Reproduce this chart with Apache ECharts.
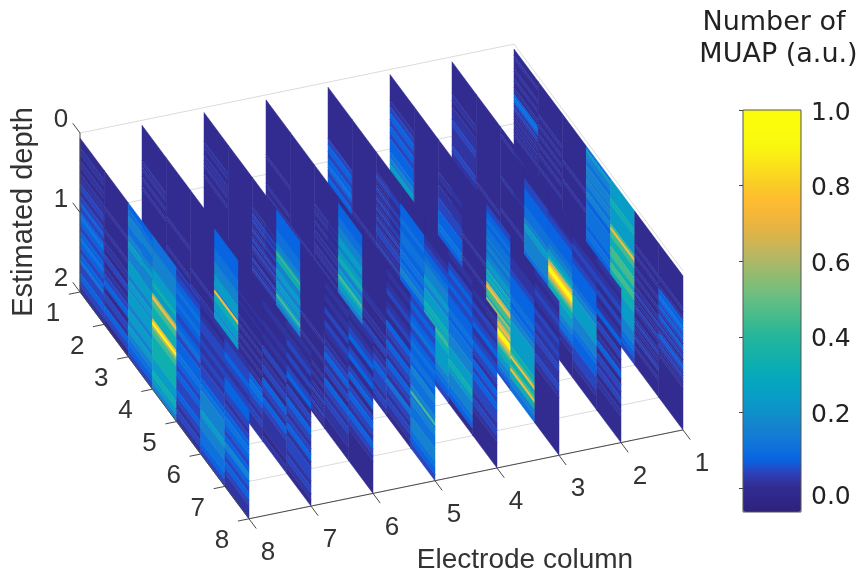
<!DOCTYPE html>
<html>
<head>
<meta charset="utf-8">
<style>html,body{margin:0;padding:0;background:#fff}#c{width:862px;height:575px}</style>
<script src="https://cdn.jsdelivr.net/npm/echarts@6/dist/echarts.min.js"></script>
</head>
<body>
<div id="c"></div>
<script>
// Intensity code per depth cell (top to bottom), per row segment 1-2 ... 7-8, per electrode column.
const levels = {0:0,1:.02,2:.045,3:.075,4:.11,5:.16,6:.24,7:.33,8:.45,9:.6,a:.75,b:.95};
const col8 = [
"00011001 10011022 11223223 43322334 33223342 22332211",
"00000000 00010000 00100011 00220011 22330022 11332200",
"33445554 44556655 55666655 66566665 56665566 55443322",
"44445555 55666677 669a8877 77ab9887 77777766 66776655",
"21223344 33443322 33442233 33443322 33222233 22112211",
"11001122 22112211 22112222 33445555 55665555 44443322",
"11222233 22112233 33221122 33443322 33553322 33221111"];
const col7 = [
"00000000 00010100 10010000 00000000 00000000 00000000",
"00000000 00000000 00100000 00010000 00000000 00010000",
"00000000 00000000 00000000 10000100 00100010 01002000",
"00333333 44445555 66665a77 66656655 55665555 44444433",
"00000000 00010010 00100100 10010010 33443322 11221111",
"00001100 00110011 00220011 22003322 11332211 11110011",
"11001122 00220022 33002211 33221122 33112222 11221100"];
const col6 = [
"00000000 01100110 10010000 00000000 01000000 00010000",
"00000000 00000000 00000000 00000000 00100000 00000000",
"00000000 01021201 20120210 02012012 10010000 00000000",
"33333344 44556877 55665566 56865566 88665555 44444433",
"00000000 00000000 00000100 00010000 10010010 20102010",
"00110011 00220022 11001122 33112200 33221122 11110000",
"11001122 33002233 00223300 22332211 33221100 00000000"];
const col5 = [
"00000000 00000000 01000000 00100101 01101201 00000000",
"00000000 00000000 00000000 00000100 00000000 00000000",
"00000000 00001010 01001100 10100100 00010000 00100000",
"00333344 45556665 66775566 87665566 76665555 44443322",
"00000000 00000000 00110000 11002200 11223322 22112211",
"00110011 22001122 00332211 33221133 22114422 11221100",
"22332233 44223344 33443355 44445584 55444455 55443322"];
const col4 = [
"00000000 00000000 22332233 43223344 22332211 00000000",
"00000000 00000000 00000000 00001010 00100000 01000000",
"00000012 10120120 12012012 21102010 01001000 01000000",
"00000033 33443344 44334433 44553344 44333344 33221100",
"00000011 22334455 55665566 66776787 76666666 55443322",
"11002233 22332233 33443344 44555566 66776655 55443300",
"00110022 11223311 22332211 33223322 22112211 00000000"];
const col3 = [
"00000000 11223322 33223333 44556655 54433322 11000000",
"00000000 00000000 00000000 00000000 00010000 00000000",
"00000000 00110011 11222233 33443344 33332211 00000000",
"00000000 00000000 00010000 00100001 00010000 00100000",
"22334434 44545545 56657676 9a887989 a9bba987 76655432",
"00000011 11223333 33443344 55666666 66778a77 8a775544",
"11001122 11002211 22112211 11221100 00000000 00000000"];
const col2 = [
"00000000 00110011 11221111 11221122 11332200 00000000",
"00000000 00000000 00000000 00010000 00000000 00000000",
"00100000 00000001 00000000 01000000 10000000 00000000",
"00000022 23333344 44556655 55554433 32100000 00000000",
"00000012 23333344 556679ab ba987766 65544321 10000000",
"00001122 11223333 33445566 66665555 44333322 22110000",
"11001122 00220011 33002200 11330022 11220011 00000000"];
const col1 = [
"00100010 01001034 31210101 10100000 10000000 00000000",
"00000000 00100100 10010010 00100001 00000000 00000000",
"00000000 00000010 00001000 00000010 00000000 00000000",
"46554455 54554455 33444444 33443344 33443333 22100000",
"66666677 6666668a 88777888 77887777 66666655 55443322",
"00000000 00100100 01001001 02010210 01201012 00100000",
"00000000 00100133 43232132 12023212 10100000 00000000"];
const columns = [col1, col2, col3, col4, col5, col6, col7, col8];
const colTicks = [1,2,3,4,5,6,7,8];
const rowTicks = [1,2,3,4,5,6,7,8];
const depthTicks = [0,1,2];
const barTicks = [0,0.2,0.4,0.6,0.8,1];
const parula = ["#2d2378","#30268a","#322d91","#2d41b9","#0864e1","#0f70dc","#147dd2","#1487cd","#0c94c8","#089ec6","#05a5c0","#0aacb4","#14b0aa","#1eb4a0","#2db796","#44bb8c","#5abe87","#73be7d","#8cbc73","#a5b969","#beb65f","#d4b450","#e6b441","#f5b737","#ffbc30","#fac828","#fad720","#fae619","#faf50f","#fafa0e","#fafc0c","#fafc0c"];

// Viewing projection of the (column, row, depth) box on to the hidden plot axes
const DEPTH_TOP = 0.0625;
function project(c, r, d) {
  return [80 + 62 * (8 - c) + 24.14 * (r - 1), 133 - 12.7 * (8 - c) + 32.4 * (r - 1) + 79.5 * d];
}

// Runs of equal cells become one band: [column, row, firstCell, endCell, value, cellCount]
const bands = [];
columns.forEach((segs, ci) => segs.forEach((s, si) => {
  const str = s.replace(/ /g, '');
  let k = 0;
  while (k < str.length) {
    let e = k + 1;
    while (e < str.length && str[e] === str[k]) e++;
    bands.push([ci + 1, si + 1, k, e, levels[str[k]], str.length]);
    k = e;
  }
}));

const light = '#dcdcdc', dark = '#4a4a4a';
const gridSegs = [
  [[8,1,0],[1,1,0]], [[1,1,0],[1,8,0]], [[8,1,1],[1,1,1]], [[8,1,2],[1,1,2]]
].concat(rowTicks.map(r => [[8,r,2],[1,r,2]]));
const axisSegs = [
  [[8,1,0],[8,1,2]], [[8,1,2],[8,8,2]], [[8,8,2],[1,8,2]]
].concat(depthTicks.map(d => [[8,1,d],[8,0.7,d]]))
 .concat(rowTicks.map(r => [[8,r,2],[8.18,r,2]]))
 .concat(colTicks.map(c => [[c,8,2],[c,8.3,2]]));
const labels = []
  .concat(depthTicks.map(d => { const p = project(8,1,d); return [String(d), p[0]-19, p[1]-13]; }))
  .concat(rowTicks.map(r => { const p = project(8,r,2); return [String(r), p[0]-27, p[1]+22]; }))
  .concat(colTicks.map(c => { const p = project(c,8,2); return [String(c), p[0]+19, p[1]+34]; }));

function segRenderer(list, color) {
  return function (params, api) {
    const s = list[params.dataIndex];
    const a = api.coord(project.apply(null, s[0])), b = api.coord(project.apply(null, s[1]));
    return {type:'line', shape:{x1:a[0],y1:a[1],x2:b[0],y2:b[1]}, style:{stroke:color, lineWidth:1}};
  };
}

const chart = echarts.init(document.getElementById('c'), null, {renderer:'canvas'});
chart.setOption({
  animation:false,
  backgroundColor:'#fff',
  grid:[
    {left:0, top:0, width:862, height:575, show:false},
    {left:743, top:110, width:58, height:402, show:true, backgroundColor:'transparent', borderColor:'#555', borderWidth:1, z:6}
  ],
  xAxis:[
    {gridIndex:0, type:'value', min:0, max:862, show:false},
    {gridIndex:1, type:'value', min:0, max:1, show:false}
  ],
  yAxis:[
    {gridIndex:0, type:'value', min:0, max:575, inverse:true, show:false},
    {gridIndex:1, type:'value', min:-0.063, max:1, position:'right', z:7,
     splitLine:{show:false},
     axisLine:{show:false},
     axisTick:{show:true, inside:true, length:4, customValues:barTicks, lineStyle:{color:'#444'}},
     axisLabel:{show:true, customValues:barTicks, margin:10, color:'#222', fontFamily:'DejaVu Sans', fontSize:25,
       padding:[6,0,0,0],
       formatter:v => v === 0 ? '{z|0.0}' : v.toFixed(1),
       rich:{z:{fontFamily:'DejaVu Sans', fontSize:25, color:'#222', padding:[12,0,0,0]}}}}
  ],
  visualMap:{
    type:'continuous', seriesIndex:1, dimension:4, min:-0.063, max:1,
    left:743, top:110, itemWidth:58, itemHeight:402, padding:0, z:1,
    calculable:false, realtime:false, text:null, showLabel:false, hoverLink:false,
    inRange:{color:parula}
  },
  series:[
    {type:'custom', name:'grid', xAxisIndex:0, yAxisIndex:0, z:1, silent:true, progressive:0,
     data:gridSegs.map((_,i)=>[i]), renderItem:segRenderer(gridSegs, light)},
    {type:'custom', name:'MUAP', xAxisIndex:0, yAxisIndex:0, z:2, silent:true, progressive:0,
     dimensions:['col','row','k0','k1','value','n'],
     encode:{x:0, y:1},
     data:bands,
     renderItem:function (params, api) {
       const c = api.value(0), r = api.value(1), k0 = api.value(2), k1 = api.value(3), n = api.value(5);
       const d0 = DEPTH_TOP + (2 - DEPTH_TOP) * k0 / n, d1 = DEPTH_TOP + (2 - DEPTH_TOP) * k1 / n;
       const pts = [project(c,r,d0), project(c,r+1,d0), project(c,r+1,d1), project(c,r,d1)].map(p => api.coord(p));
       const col = api.visual('color');
       return {type:'polygon', shape:{points:pts}, style:{fill:col, stroke:col, lineWidth:0.5}};
     }},
    {type:'custom', name:'axes', xAxisIndex:0, yAxisIndex:0, z:3, silent:true, progressive:0,
     data:axisSegs.map((_,i)=>[i]), renderItem:segRenderer(axisSegs, dark)},
    {type:'custom', name:'ticklabels', xAxisIndex:0, yAxisIndex:0, z:4, silent:true, progressive:0,
     data:labels.map((_,i)=>[i]),
     renderItem:function (params, api) {
       const l = labels[params.dataIndex], p = api.coord([l[1], l[2]]);
       return {type:'text', style:{x:p[0], y:p[1], text:l[0], fill:'#333', font:'26px "Liberation Sans"', align:'center', verticalAlign:'middle'}};
     }}
  ],
  graphic:[
    {type:'text', x:24, y:212, rotation:Math.PI/2, style:{text:'Estimated depth', font:'29px "Liberation Sans"', fill:'#333', align:'center', verticalAlign:'middle'}},
    {type:'text', x:525, y:560, style:{text:'Electrode column', font:'28px "Liberation Sans"', fill:'#333', align:'center', verticalAlign:'middle'}},
    {type:'text', x:774, y:23, style:{text:'Number of', font:'27px "DejaVu Sans"', fill:'#222', align:'center', verticalAlign:'middle'}},
    {type:'text', x:778.5, y:55, style:{text:'MUAP (a.u.)', font:'27px "DejaVu Sans"', fill:'#222', align:'center', verticalAlign:'middle'}}
  ]
});
</script>
</body>
</html>
